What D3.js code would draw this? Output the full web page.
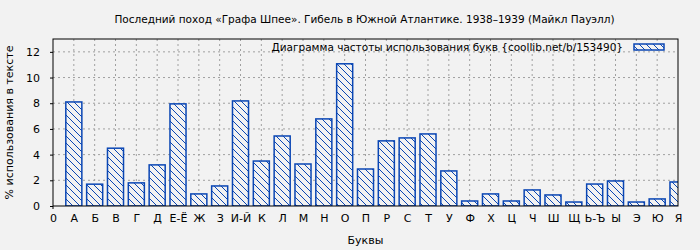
<!DOCTYPE html>
<html>
<head>
<meta charset="utf-8">
<script src="https://cdn.jsdelivr.net/npm/d3@7.9.0/dist/d3.min.js"></script>
<style>
  body { margin: 0; background: #f2f2f2; }
  svg { display: block; font-family: "DejaVu Sans", sans-serif; }
</style>
</head>
<body>
<svg width="700" height="250"></svg>
<script>
const title = "Последний поход «Графа Шпее». Гибель в Южной Атлантике. 1938–1939 (Майкл Пауэлл)";
const legendText = "Диаграмма частоты использования букв {coollib.net/b/153490}";

// letters (position 0 is the "0" tick)
const letters = ["А", "Б", "В", "Г", "Д", "Е-Ё", "Ж", "З", "И-Й", "К", "Л", "М", "Н", "О", "П",
  "Р", "С", "Т", "У", "Ф", "Х", "Ц", "Ч", "Ш", "Щ", "Ь-Ъ", "Ы", "Э", "Ю", "Я"];
const values = [8.1, 1.7, 4.5, 1.8, 3.2, 7.95, 0.94, 1.56, 8.18, 3.5, 5.45, 3.27, 6.78, 11.07, 2.88,
  5.07, 5.3, 5.61, 2.73, 0.39, 0.94, 0.39, 1.25, 0.86, 0.31, 1.71, 1.95, 0.31, 0.55, 1.87];
const yTicks = [0, 2, 4, 6, 8, 10, 12];

const margin = { top: 39, right: 22, bottom: 44, left: 53 },
  width = 700 - margin.left - margin.right,
  height = 250 - margin.top - margin.bottom;

const blue = "#0a46b4";
const grid = "#a0a0a0";

const svg = d3.select("svg");

// hatch pattern
const defs = svg.append("defs");
const pat = defs.append("pattern")
  .attr("id", "hatch")
  .attr("patternUnits", "userSpaceOnUse")
  .attr("width", 7)
  .attr("height", 7);
pat.append("rect").attr("width", 7).attr("height", 7).attr("fill", "#f2f2f2");
pat.append("path")
  .attr("d", "M0,0L7,7M-3.5,3.5L3.5,10.5M3.5,-3.5L10.5,3.5")
  .attr("stroke", blue)
  .attr("stroke-width", 1);

defs.append("clipPath").attr("id", "clip")
  .append("rect").attr("width", width).attr("height", height);

const g = svg.append("g").attr("transform", `translate(${margin.left},${margin.top})`);

const x = d3.scaleLinear().domain([0, letters.length]).range([0, width]);
const y = d3.scaleLinear().domain([0, 13]).range([height, 0]);

// grid
g.append("g").selectAll("line").data(d3.range(1, letters.length))
  .join("line")
  .attr("x1", d => x(d)).attr("x2", d => x(d))
  .attr("y1", 0).attr("y2", height)
  .attr("stroke", grid).attr("stroke-dasharray", "2,3");
g.append("g").selectAll("line").data(yTicks.slice(1))
  .join("line")
  .attr("x1", 0).attr("x2", width)
  .attr("y1", d => y(d)).attr("y2", d => y(d))
  .attr("stroke", grid).attr("stroke-dasharray", "2,3");

// bars
const bw = x(0.77) - x(0);
g.append("g").attr("clip-path", "url(#clip)")
  .selectAll("rect").data(values)
  .join("rect")
  .attr("x", (d, i) => x(i + 1) - bw / 2)
  .attr("y", d => y(d))
  .attr("width", bw)
  .attr("height", d => y(0) - y(d))
  .attr("fill", "url(#hatch)")
  .attr("stroke", blue)
  .attr("stroke-width", 1.5);

// frame
g.append("rect")
  .attr("width", width).attr("height", height)
  .attr("fill", "none").attr("stroke", "#000").attr("stroke-width", 1);

// axes
const yAxis = g.append("g")
  .call(d3.axisLeft(y).tickValues(yTicks).tickSize(3).tickSizeOuter(0));
yAxis.select(".domain").remove();
yAxis.selectAll("line").attr("stroke", "#000");
yAxis.selectAll("text").attr("font-size", 11).attr("fill", "#000")
  .attr("font-family", "DejaVu Sans, sans-serif").attr("x", -13);

const xAxis = g.append("g")
  .attr("transform", `translate(0,${height})`)
  .call(d3.axisBottom(x)
    .tickValues(d3.range(0, letters.length + 1))
    .tickFormat(d => d === 0 ? "0" : letters[d - 1])
    .tickSize(0));
xAxis.select(".domain").remove();
xAxis.selectAll("text").attr("font-size", 11).attr("fill", "#000")
  .attr("font-family", "DejaVu Sans, sans-serif").attr("dy", "0.71em").attr("y", 8);
g.append("line").attr("x1", 0).attr("x2", 0)
  .attr("y1", height).attr("y2", height + 3).attr("stroke", "#000");

// title
svg.append("text")
  .attr("x", margin.left + width / 2 - 1).attr("y", 23)
  .attr("text-anchor", "middle").attr("font-size", 10.5)
  .text(title);

// axis labels
svg.append("text")
  .attr("x", margin.left + width / 2).attr("y", 244)
  .attr("text-anchor", "middle").attr("font-size", 11)
  .text("Буквы");
svg.append("text")
  .attr("transform", `translate(13,${margin.top + height / 2}) rotate(-90)`)
  .attr("text-anchor", "middle").attr("font-size", 11)
  .text("% использования в тексте");

// legend
g.append("text")
  .attr("x", 570).attr("y", 12)
  .attr("text-anchor", "end").attr("font-size", 10.5)
  .text(legendText);
g.append("rect")
  .attr("x", 581).attr("y", 5).attr("width", 30).attr("height", 6)
  .attr("fill", "url(#hatch)").attr("stroke", blue).attr("stroke-width", 1.5);
</script>
</body>
</html>
